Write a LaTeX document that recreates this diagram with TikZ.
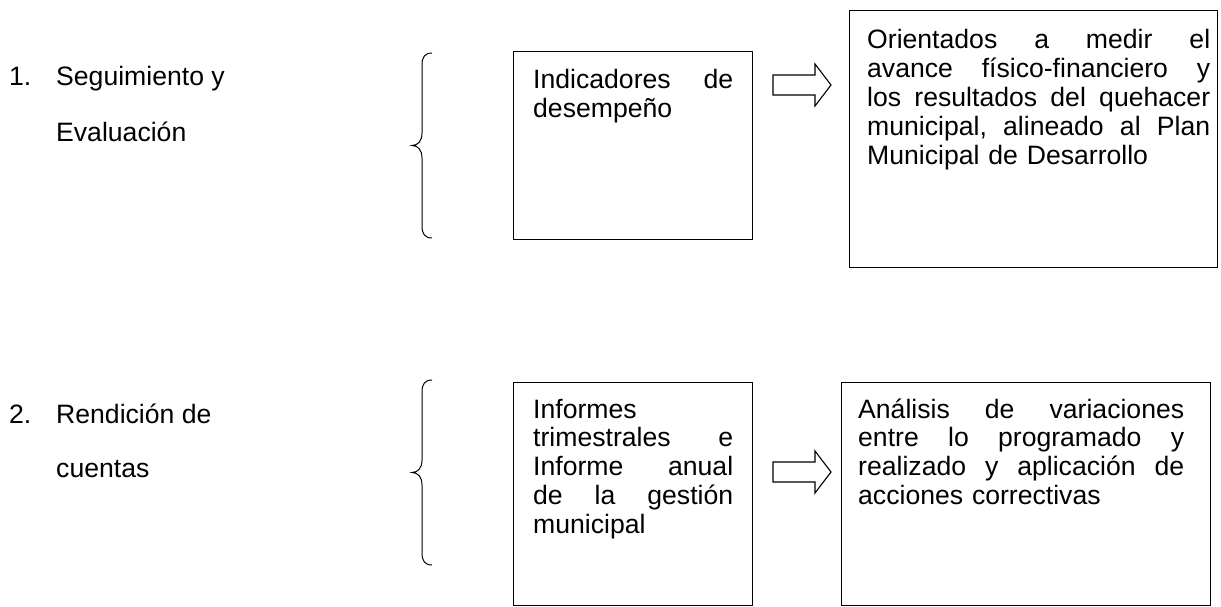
\documentclass[tikz,border=0pt]{standalone}
\usepackage{fontspec}
\setmainfont{Liberation Sans}
\newcommand{\jl}[2]{\leavevmode\hbox to #1{#2}}
\begin{document}
\begin{tikzpicture}[x=1pt,y=-1pt,
  box/.style={draw, line width=1.2pt, inner sep=0pt, anchor=north west},
  lbl/.style={anchor=base west, inner sep=0pt, font=\fontsize{26.6}{28.9}\selectfont},
  txt/.style={lbl},
  blockarr/.pic={\draw[line width=1.1pt, line join=miter] (0,-10) -- (42,-10) -- (42,-21) -- (58,0) -- (42,21) -- (42,10) -- (0,10) -- cycle;},
  lbr/.pic={\draw[line width=1pt] (0,0) .. controls (-7,0) and (-10,4) .. (-10,12) -- (-10,80) .. controls (-10,88) and (-14,92.5) .. (-20,92.5) .. controls (-14,92.5) and (-10,97) .. (-10,105) -- (-10,173) .. controls (-10,181) and (-7,185) .. (0,185);}
]
\useasboundingbox (0,0) rectangle (1221,607);

% left labels
\node[lbl] (n1) at (9,86) {1.};
\node[lbl] (l1a) at (56,86) {Seguimiento y};
\node[lbl] (l1b) at (56,142) {Evaluación};
\node[lbl] (n2) at (9,423) {2.};
\node[lbl] (l2a) at (56,423) {Rendición de};
\node[lbl] (l2b) at (56,477) {cuentas};

% braces
\pic at (432,53) {lbr};
\pic at (432,380) {lbr};

% boxes
\node[box, minimum width=239pt, minimum height=188pt] (b1) at (513,51) {};
\node[box, minimum width=368pt, minimum height=257pt] (b2) at (849,10) {};
\node[box, minimum width=239pt, minimum height=223pt] (b3) at (513,382) {};
\node[box, minimum width=369pt, minimum height=223pt] (b4) at (841,382) {};

% box texts
\node[txt, text width=200pt] (t1) at (533,89) {\jl{200pt}{Indicadores\hfill de}\\desempeño};
\node[txt, text width=343pt] (t2) at (867,49) {\jl{343pt}{Orientados\hfill a\hfill medir\hfill el}\\\jl{343pt}{avance\hfill físico-financiero\hfill y}\\\jl{343pt}{los\hfill resultados\hfill del\hfill quehacer}\\\jl{343pt}{municipal,\hfill alineado\hfill al\hfill Plan}\\Municipal de Desarrollo};
\node[txt, text width=200pt] (t3) at (533,418) {Informes\\\jl{200pt}{trimestrales\hfill e}\\\jl{200pt}{Informe\hfill anual}\\\jl{200pt}{de\hfill la\hfill gestión}\\municipal};
\node[txt, text width=326pt] (t4) at (858,418) {\jl{326pt}{Análisis\hfill de\hfill variaciones}\\\jl{326pt}{entre\hfill lo\hfill programado\hfill y}\\\jl{326pt}{realizado\hfill y\hfill aplicación\hfill de}\\acciones correctivas};

% block arrows
\pic at (773,85) {blockarr};
\pic at (773,472) {blockarr};
\end{tikzpicture}
\end{document}
